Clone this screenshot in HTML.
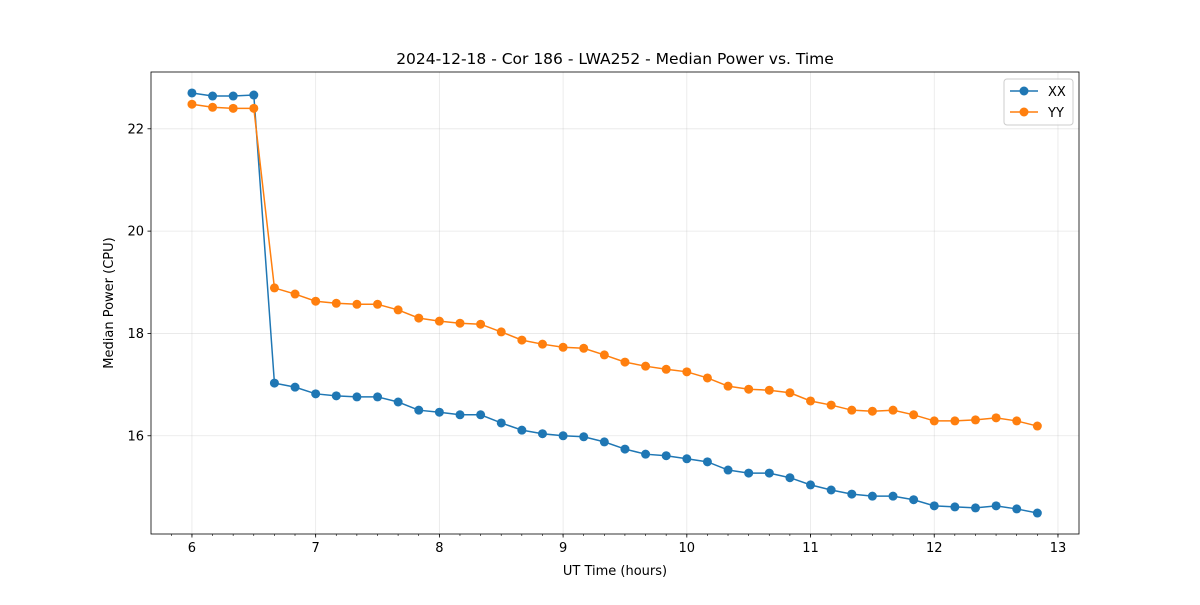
<!DOCTYPE html>
<html><head><meta charset="utf-8"><style>
body{margin:0;background:#fff;font-family:"Liberation Sans","DejaVu Sans",sans-serif;}
svg text{font-family:"DejaVu Sans","Liberation Sans",sans-serif;}
</style></head><body>
<svg id="chart" width="1200" height="600" xmlns="http://www.w3.org/2000/svg"></svg>
<script>
const times = [];
for (let i = 0; i < 42; i++) times.push(6 + i / 6);
const xxValues = [22.70,22.64,22.64,22.66,17.03,16.95,16.82,16.78,16.76,16.76,16.66,16.50,16.46,16.41,16.41,16.25,16.11,16.04,16.00,15.98,15.88,15.74,15.64,15.61,15.55,15.49,15.33,15.27,15.27,15.18,15.04,14.94,14.86,14.82,14.82,14.75,14.63,14.61,14.59,14.63,14.57,14.49];
const yyValues = [22.48,22.42,22.40,22.40,18.89,18.77,18.63,18.59,18.57,18.57,18.46,18.30,18.24,18.20,18.18,18.03,17.87,17.79,17.73,17.71,17.58,17.44,17.36,17.30,17.25,17.13,16.97,16.91,16.89,16.84,16.68,16.60,16.50,16.48,16.50,16.41,16.29,16.29,16.31,16.35,16.29,16.19];
const xTicks = [6,7,8,9,10,11,12,13];
const yTicks = [16,18,20,22];

const L=151,R=1079,T=72,B=534;
const xMin=5.669,xMax=13.17,yMin=14.08,yMax=23.11;
const sx=v=>L+(v-xMin)/(xMax-xMin)*(R-L);
const sy=v=>B-(v-yMin)/(yMax-yMin)*(B-T);
const svg=document.getElementById('chart');
const NS='http://www.w3.org/2000/svg';
function mk(tag,attrs,parent){const e=document.createElementNS(NS,tag);for(const k in attrs)e.setAttribute(k,attrs[k]);(parent||svg).appendChild(e);return e;}

// grid
xTicks.forEach(t=>{
  const g=mk('line',{x1:sx(t),x2:sx(t),y1:T,y2:B,stroke:'#b0b0b0','stroke-width':0.8,'stroke-opacity':0.3});
  
  
});
yTicks.forEach(t=>{
  const g=mk('line',{x1:L,x2:R,y1:sy(t),y2:sy(t),stroke:'#b0b0b0','stroke-width':0.8,'stroke-opacity':0.3});
  
  
});

function series(vals,color,name){
  const g=mk('g',{});
  
  
  const pts=vals.map((v,i)=>sx(times[i])+','+sy(v)).join(' ');
  const pl=mk('polyline',{points:pts,fill:'none',stroke:color,'stroke-width':1.5},g);
  
  
  vals.forEach((v,i)=>{
    const c=mk('circle',{cx:sx(times[i]),cy:sy(v),r:4.5,fill:color},g);
    
    
  });
}
series(xxValues,'#1f77b4','xx');
series(yyValues,'#ff7f0e','yy');

// axes frame
const fr=mk('rect',{x:L,y:T,width:R-L,height:B-T,fill:'none',stroke:'#000','stroke-width':0.8});



// minor x ticks
for(let v=5.833;v<=13.1;v+=1/6){
  const m=mk('line',{x1:sx(v),x2:sx(v),y1:B,y2:B+2,stroke:'#000','stroke-width':0.6});
  
  
}
xTicks.forEach(t=>{
  const l=mk('line',{x1:sx(t),x2:sx(t),y1:B,y2:B+3.5,stroke:'#000','stroke-width':0.8});
  
  
  const tx=mk('text',{x:sx(t),y:B+18,'text-anchor':'middle','font-size':13,fill:'#000'});
  tx.textContent=t;
  
  
});
yTicks.forEach(t=>{
  const l=mk('line',{x1:L-3.5,x2:L,y1:sy(t),y2:sy(t),stroke:'#000','stroke-width':0.8});
  
  
  const tx=mk('text',{x:L-7,y:sy(t)+4.5,'text-anchor':'end','font-size':13,fill:'#000'});
  tx.textContent=t;
  
  
});
</script>
<svg style="position:absolute;left:0;top:0" width="1200" height="600" xmlns="http://www.w3.org/2000/svg">
<text x="615" y="64" text-anchor="middle" font-size="15.5">2024-12-18 - Cor 186 - LWA252 - Median Power vs. Time</text>
<text x="615" y="575" text-anchor="middle" font-size="13">UT Time (hours)</text>
<text transform="translate(113,303) rotate(-90)" text-anchor="middle" font-size="13">Median Power (CPU)</text>
<g>
<rect x="1004" y="79" width="69" height="46" rx="3" fill="#fff" fill-opacity="0.8" stroke="#ccc"/>
<g>
<line x1="1010" x2="1038" y1="91" y2="91" stroke="#1f77b4" stroke-width="1.5"/>
<circle cx="1024" cy="91" r="4.5" fill="#1f77b4"/>
<text x="1048" y="96" font-size="13">XX</text></g>
<g>
<line x1="1010" x2="1038" y1="112" y2="112" stroke="#ff7f0e" stroke-width="1.5"/>
<circle cx="1024" cy="112" r="4.5" fill="#ff7f0e"/>
<text x="1048" y="117" font-size="13">YY</text></g>
</g>
</svg>
</body></html>
